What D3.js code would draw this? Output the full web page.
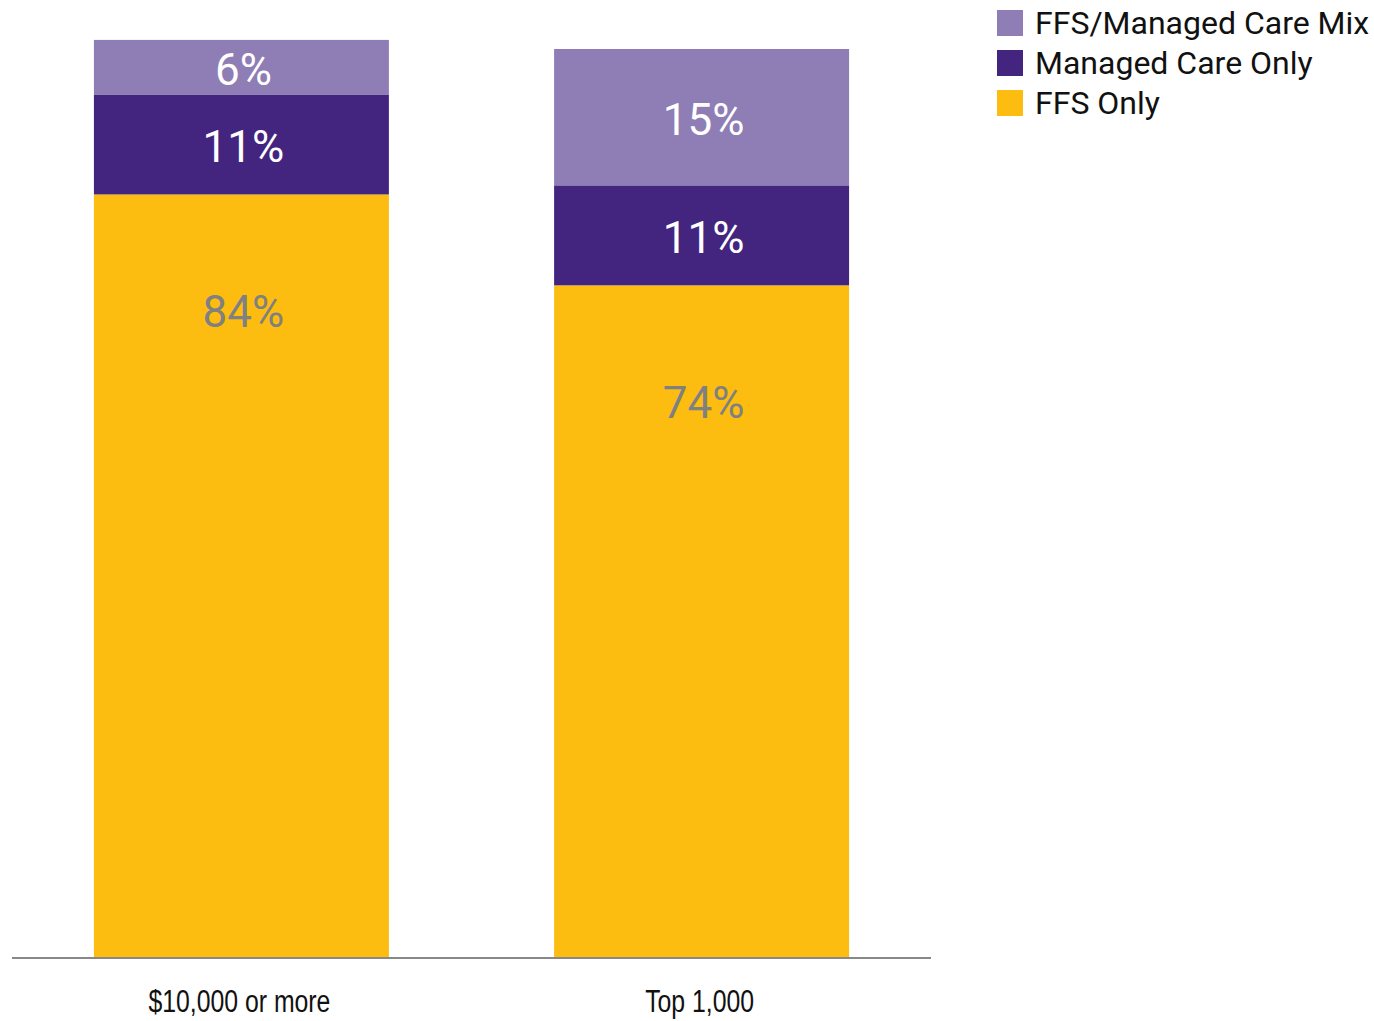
<!DOCTYPE html>
<html><head><meta charset="utf-8">
<script src="https://cdn.jsdelivr.net/npm/d3@7"></script>
<style>body{margin:0;background:#fff}svg{display:block}</style>
</head><body>
<svg id="c" width="1374" height="1021"></svg>
<script>
const categories = ["$10,000 or more", "Top 1,000"];
const seriesNames = ["FFS Only", "Managed Care Only", "FFS/Managed Care Mix"];
const ffsOnly = [84, 74];
const managedOnly = [11, 11];
const mix = [6, 15];
const colors = ["#fcbd10", "#43257f", "#8f7db5"];
const labelColors = ["#808080", "#ffffff", "#ffffff"];

const svg = d3.select("#c");
const baseY = 958;
const x = d3.scaleBand().domain(categories).range([12, 931]).paddingInner(0.359).paddingOuter(0.178);
const y = d3.scaleLinear().domain([0, 100]).range([baseY, 49]);

const rows = categories.map((c, i) => ({cat: c, "FFS Only": ffsOnly[i], "Managed Care Only": managedOnly[i], "FFS/Managed Care Mix": mix[i]}));
const stack = d3.stack().keys(seriesNames)(rows);

const g = svg.append("g");
stack.forEach((layer, li) => {
  g.selectAll(null).data(layer).enter().append("rect")
    .attr("x", d => x(d.data.cat)).attr("width", x.bandwidth())
    .attr("y", d => y(d[1])).attr("height", d => y(d[0]) - y(d[1]))
    .attr("fill", colors[li]);
});
stack.forEach((layer, li) => {
  g.selectAll(null).data(layer).enter().append("text")
    .attr("x", d => x(d.data.cat) + x.bandwidth() / 2 + 2)
    .attr("y", d => li === 0 ? y(d[1]) + 118 : (y(d[0]) + y(d[1])) / 2 + 3)
    .attr("text-anchor", "middle").attr("dominant-baseline", "central")
    .attr("font-family", "Roboto, 'Noto Sans', sans-serif").attr("font-size", 44)
    .attr("fill", labelColors[li])
    .text(d => (d[1] - d[0]) + "%");
});

// axis
const ax = svg.append("g").attr("transform", `translate(0,${baseY})`)
  .call(d3.axisBottom(x).tickSize(0).tickPadding(32));
ax.select(".domain").attr("stroke", "#888").attr("stroke-width", 2).attr("d", "M12,0H931");
ax.selectAll("text").attr("font-family", "'Liberation Sans', Arial, sans-serif")
  .attr("font-size", 31).attr("fill", "#111").attr("transform", "translate(-2,0) scale(0.8,1)");

// legend
const legendOrder = ["FFS/Managed Care Mix", "Managed Care Only", "FFS Only"];
const lg = svg.append("g").attr("transform", "translate(997,10)");
legendOrder.forEach((n, i) => {
  const ci = seriesNames.indexOf(n);
  const row = lg.append("g").attr("transform", `translate(0,${i * 40})`);
  row.append("rect").attr("width", 26).attr("height", 26).attr("fill", colors[ci]);
  row.append("text").attr("x", 38).attr("y", 13).attr("dominant-baseline", "central")
    .attr("font-family", "Roboto, 'Noto Sans', sans-serif").attr("font-size", 32).attr("fill", "#111").text(n);
});
</script>
</body></html>
